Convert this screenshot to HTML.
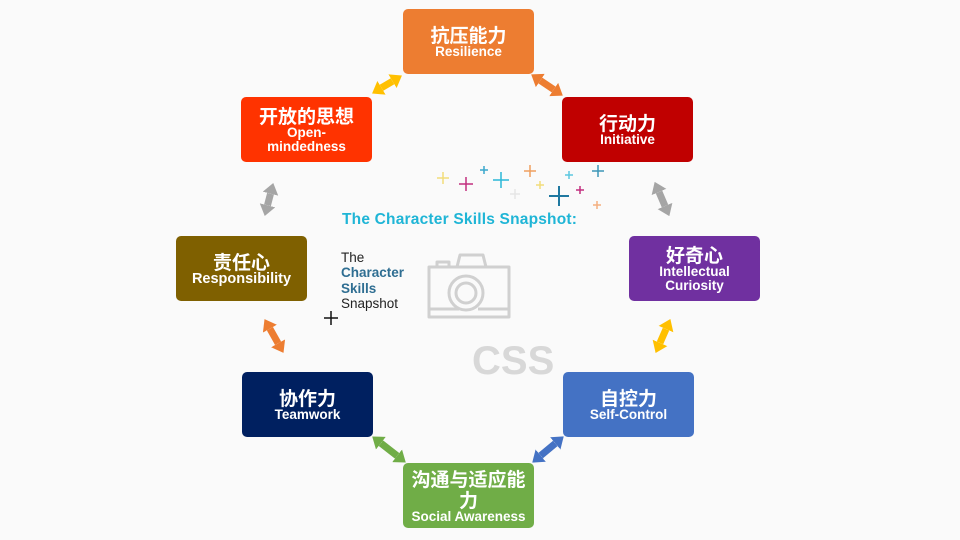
<!DOCTYPE html>
<html><head><meta charset="utf-8"><style>
body{margin:0;width:960px;height:540px;background:#fafafa;position:relative;overflow:hidden;font-family:"Liberation Sans","Noto Sans CJK SC",sans-serif}
.b{position:absolute;width:131px;height:65px;border-radius:5px;color:#fff;font-weight:bold;display:flex;flex-direction:column;align-items:center;justify-content:center;text-align:center;line-height:1.05}
.b .c{font-size:19px;font-family:"Noto Sans CJK SC",sans-serif;line-height:21px}
.b .e{font-size:13.5px;line-height:14px}
.t{position:absolute}
</style></head><body>
<svg width="960" height="540" style="position:absolute;left:0;top:0">
<defs>
<marker id="m" markerWidth="11" markerHeight="16" refX="0" refY="8" orient="auto-start-reverse" markerUnits="userSpaceOnUse"><path d="M0,0 L11,8 L0,16z" fill="context-stroke"/></marker>
</defs>
<g stroke-width="7" marker-start="url(#m)" marker-end="url(#m)">
<line x1="381.5" y1="87.8" x2="392.5" y2="81.2" stroke="#FFC000"/>
<line x1="540.3" y1="80.5" x2="553.7" y2="89.5" stroke="#ED7D31"/>
<line x1="270.5" y1="193.7" x2="267.5" y2="205.3" stroke="#A5A5A5"/>
<line x1="659" y1="192" x2="665" y2="206" stroke="#A5A5A5"/>
<line x1="269.9" y1="328.7" x2="278.1" y2="343.3" stroke="#ED7D31"/>
<line x1="666" y1="329.1" x2="660" y2="342.9" stroke="#FFC000"/>
<line x1="380.9" y1="443.2" x2="397.1" y2="455.8" stroke="#70AD47"/>
<line x1="555.3" y1="443.4" x2="540.7" y2="455.6" stroke="#4472C4"/>
</g>
<g stroke-width="1.5">
<path d="M437,178h12M443,172v12" stroke="#f2dc7a"/>
<path d="M459,184h14M466,177v14" stroke="#c2307f"/>
<path d="M480,170h8M484,166v8" stroke="#3aa8cc"/>
<path d="M493,180h16M501,172v16" stroke="#2bb8d8"/>
<path d="M524,171h12M530,165v12" stroke="#f0a060"/>
<path d="M536,185h8M540,181v8" stroke="#f2dc7a"/>
<path d="M510,194h10M515,189v10" stroke="#e6e6e6"/>
<path d="M549,196h20M559,186v20" stroke="#1f78a0" stroke-width="2"/>
<path d="M565,175h8M569,171v8" stroke="#5cc8e0"/>
<path d="M576,190h8M580,186v8" stroke="#c2307f"/>
<path d="M592,171h12M598,165v12" stroke="#3d96b8"/>
<path d="M593,205h8M597,201v8" stroke="#f4b080"/>
<path d="M324,318h14M331,311v14" stroke="#111"/>
</g>
<g fill="none" stroke="#d0d0d0" stroke-width="3" stroke-linejoin="round">
<path d="M433,267h76v50h-80v-50z"/>
<path d="M457,267l3,-12h23l3,12"/>
<path d="M437,267v-5h12v5"/>
<circle cx="466" cy="293" r="17"/>
<circle cx="466" cy="293" r="10"/>
<path d="M429,309h30M478,309h31"/>
</g>
</svg>
<div class="b" style="left:403px;top:9px;background:#ED7D31"><div class="c">抗压能力</div><div class="e">Resilience</div></div>
<div class="b" style="left:241px;top:97px;background:#FF3300"><div class="c">开放的思想</div><div class="e">Open-<br>mindedness</div></div>
<div class="b" style="left:562px;top:97px;background:#C00000"><div class="c">行动力</div><div class="e">Initiative</div></div>
<div class="b" style="left:176px;top:236px;background:#7F6000"><div class="c">责任心</div><div class="e" style="font-size:14.5px">Responsibility</div></div>
<div class="b" style="left:629px;top:236px;background:#7030A0"><div class="c">好奇心</div><div class="e">Intellectual<br>Curiosity</div></div>
<div class="b" style="left:242px;top:372px;background:#002060"><div class="c">协作力</div><div class="e">Teamwork</div></div>
<div class="b" style="left:563px;top:372px;background:#4472C4"><div class="c">自控力</div><div class="e">Self-Control</div></div>
<div class="b" style="left:403px;top:463px;background:#70AD47"><div class="c">沟通与适应能<br>力</div><div class="e">Social Awareness</div></div>
<div class="t" style="left:342px;top:211px;font-size:15.5px;font-weight:bold;color:#1fb5d6;letter-spacing:0.2px">The Character Skills Snapshot:</div>
<div class="t" style="left:341px;top:250px;font-size:13.5px;line-height:15.3px;color:#222">The<br><b style="color:#2f6e92">Character<br>Skills</b><br>Snapshot</div>
<div class="t" style="left:472px;top:339px;font-size:40px;font-weight:bold;color:#d8d8d8">CSS</div>
</body></html>
